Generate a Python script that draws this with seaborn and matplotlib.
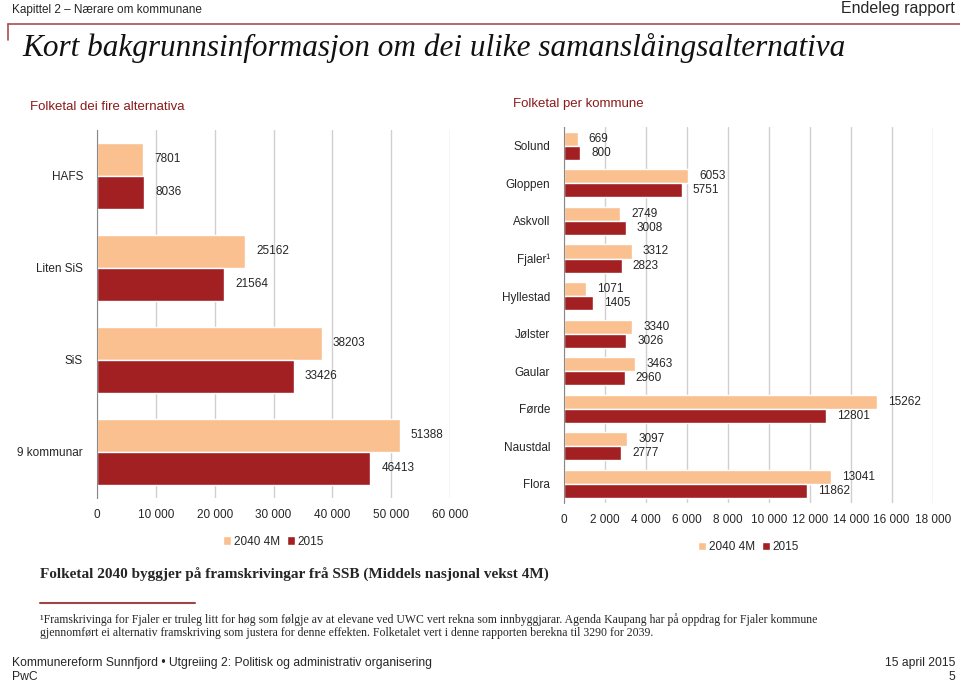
import numpy as np
import pandas as pd
import matplotlib
matplotlib.use('Agg')
import matplotlib.pyplot as plt
from matplotlib.lines import Line2D
import seaborn as sns

sns.set_style('white')
plt.rcParams['font.family'] = ['Liberation Sans', 'DejaVu Sans']

# data
alt_names = ['HAFS', 'Liten SiS', 'SiS', '9 kommunar']
alt_2040 = [7801, 25162, 38203, 51388]
alt_2015 = [8036, 21564, 33426, 46413]

kom_names = ['Solund', 'Gloppen', 'Askvoll', 'Fjaler¹', 'Hyllestad',
             'Jølster', 'Gaular', 'Førde', 'Naustdal', 'Flora']
kom_2040 = [669, 6053, 2749, 3312, 1071, 3340, 3463, 15262, 3097, 13041]
kom_2015 = [800, 5751, 3008, 2823, 1405, 3026, 2960, 12801, 2777, 11862]

series = ['2040 4M', '2015']
colors = ['#fac090', '#a21f22']
dark_red = '#8b1a1a'


def long_df(names, v2040, v2015):
    return pd.concat([
        pd.DataFrame({'navn': names, 'verdi': v2040, 'serie': series[0]}),
        pd.DataFrame({'navn': names, 'verdi': v2015, 'serie': series[1]}),
    ], ignore_index=True)


def draw(ax, df, names, xmax, step, width, fmt_ticks):
    sns.barplot(data=df, y='navn', x='verdi', hue='serie', order=names,
                hue_order=series, palette=colors, orient='h', width=width,
                saturation=1, ax=ax, legend=True)
    for cont in ax.containers:
        ax.bar_label(cont, fmt='%d', padding=8, fontsize=8.5)
    ax.set_xlim(0, xmax)
    ticks = np.arange(0, xmax + 1, step)
    ax.set_xticks(ticks)
    ax.set_xticklabels([fmt_ticks(t) for t in ticks], fontsize=8.5)
    ax.set_ylim(len(names) - 0.5, -0.5)
    ax.tick_params(axis='y', labelsize=8.5, length=0, pad=10)
    ax.set_yticks(np.arange(-0.5, len(names)), minor=True)
    ax.tick_params(axis='y', which='minor', length=4, color='#888888', width=0.8)
    ax.tick_params(axis='x', length=0, pad=8)
    ax.xaxis.grid(True, color='#d0d0d0', linewidth=1)
    ax.set_axisbelow(True)
    for s in ['top', 'right', 'bottom']:
        ax.spines[s].set_visible(False)
    ax.spines['left'].set_color('#888888')
    ax.set_xlabel('')
    ax.set_ylabel('')
    ax.legend(loc='upper center', bbox_to_anchor=(0.5, -0.09), ncol=2,
              frameon=False, fontsize=8.5, handlelength=0.7, handleheight=0.7,
              handletextpad=0.2, columnspacing=0.6, borderaxespad=0)


def fmt_space(t):
    return f'{int(t):,}'.replace(',', ' ')


fig = plt.figure(figsize=(9.6, 6.83), dpi=100)

ax1 = fig.add_axes([0.101, 0.271, 0.368, 0.539])
draw(ax1, long_df(alt_names, alt_2040, alt_2015), alt_names, 60000, 10000, 0.72, fmt_space)

ax2 = fig.add_axes([0.5875, 0.264, 0.384, 0.55])
draw(ax2, long_df(kom_names, kom_2040, kom_2015), kom_names, 18000, 2000, 0.75, fmt_space)

# header
fig.text(12 / 960, 1 - 10 / 683, 'Kapittel 2 – Nærare om kommunane', fontsize=8.5,
         va='center', ha='left')
fig.text(955 / 960, 1 - 9 / 683, 'Endeleg rapport', fontsize=11.5, va='center', ha='right')
fig.add_artist(Line2D([8 / 960, 1.0], [1 - 24 / 683, 1 - 24 / 683], color='#a55050',
                      linewidth=1.2, transform=fig.transFigure))
fig.add_artist(Line2D([8 / 960, 8 / 960], [1 - 24 / 683, 1 - 40 / 683], color='#a55050',
                      linewidth=1.2, transform=fig.transFigure))
fig.text(22 / 960, 1 - 48 / 683, 'Kort bakgrunnsinformasjon om dei ulike samanslåingsalternativa',
         fontsize=22.5, family='Liberation Serif', style='italic',
         va='center', ha='left', color='#111111')

fig.text(30 / 960, 1 - 107 / 683, 'Folketal dei fire alternativa', fontsize=9.5,
         color=dark_red, va='center', ha='left')
fig.text(513 / 960, 1 - 104 / 683, 'Folketal per kommune', fontsize=9.5,
         color=dark_red, va='center', ha='left')

# footer
fig.text(40 / 960, 1 - 575 / 683,
         'Folketal 2040 byggjer på framskrivingar frå SSB (Middels nasjonal vekst 4M)',
         fontsize=11, family='Liberation Serif', weight='bold', va='center', ha='left')
fig.add_artist(Line2D([40 / 960, 195 / 960], [1 - 603 / 683, 1 - 603 / 683], color='#a04545',
                      linewidth=1.5, transform=fig.transFigure))
fig.text(40 / 960, 1 - 620 / 683,
         '¹Framskrivinga for Fjaler er truleg litt for høg som følgje av at elevane ved UWC vert '
         'rekna som innbyggjarar. Agenda Kaupang har på oppdrag for Fjaler kommune',
         fontsize=8.5, family='Liberation Serif', va='center', ha='left')
fig.text(40 / 960, 1 - 633 / 683,
         'gjennomført ei alternativ framskriving som justera for denne effekten. Folketalet vert '
         'i denne rapporten berekna til 3290 for 2039.',
         fontsize=8.5, family='Liberation Serif', va='center', ha='left')
fig.text(12 / 960, 1 - 663 / 683,
         'Kommunereform Sunnfjord • Utgreiing 2: Politisk og administrativ organisering',
         fontsize=8.7, va='center', ha='left')
fig.text(12 / 960, 1 - 677 / 683, 'PwC', fontsize=8.7, va='center', ha='left')
fig.text(955 / 960, 1 - 663 / 683, '15 april 2015', fontsize=8.7, va='center', ha='right')
fig.text(955 / 960, 1 - 677 / 683, '5', fontsize=8.7, va='center', ha='right')

fig.savefig('out.png', dpi=100)
